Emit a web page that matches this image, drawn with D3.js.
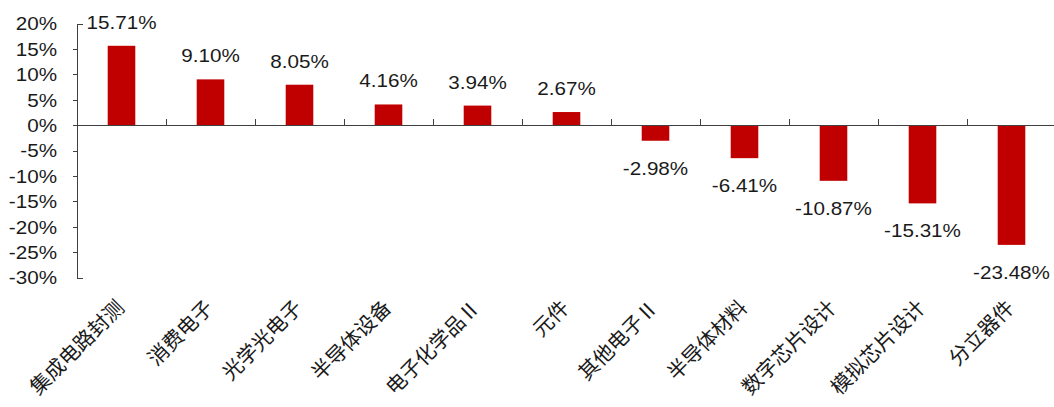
<!DOCTYPE html>
<html>
<head>
<meta charset="utf-8">
<script src="https://cdn.jsdelivr.net/npm/d3@7"></script>
<style>
  html, body { margin: 0; padding: 0; background: #ffffff; }
  svg { display: block; }
</style>
</head>
<body>
<svg id="chart" width="1054" height="407"></svg>
<script>
// Sub-industry returns (%)
const categories = ["集成电路封测", "消费电子", "光学光电子", "半导体设备", "电子化学品Ⅱ", "元件", "其他电子Ⅱ", "半导体材料", "数字芯片设计", "模拟芯片设计", "分立器件"];
const values = [15.71, 9.10, 8.05, 4.16, 3.94, 2.67, -2.98, -6.41, -10.87, -15.31, -23.48];
const yTicks = [20, 15, 10, 5, 0, -5, -10, -15, -20, -25, -30];

const W = 1054, H = 407;
const stretch = 1.18;          // horizontal stretch for the numeric labels
const barColor = "#C00000";
const axisColor = "#404040";
const textColor = "#1a1a1a";
const latinFont = "'Liberation Sans', Arial, sans-serif";
const cjkFont = "'Noto Sans CJK SC', 'Noto Sans', sans-serif";

const svg = d3.select("#chart");

const axisX = 77;
const x = d3.scaleBand()
  .domain(categories)
  .range([axisX, 1056])
  .paddingInner(0.69)
  .paddingOuter(0.345);

const y = d3.scaleLinear()
  .domain([-30, 20])
  .range([278, 24]);

const y0 = y(0);

// bars
svg.append("g")
  .selectAll("rect")
  .data(values)
  .join("rect")
  .attr("x", (d, i) => x(categories[i]))
  .attr("width", x.bandwidth())
  .attr("y", d => Math.min(y(d), y0))
  .attr("height", d => Math.abs(y(d) - y0))
  .attr("fill", barColor);

// y axis
const yAxis = svg.append("g").attr("stroke", axisColor).attr("stroke-width", 1).attr("fill", "none");
yAxis.append("path")
  .attr("d", `M${axisX + 6},${y(20)}H${axisX}V${y(-30)}H${axisX + 6}`)
  .attr("shape-rendering", "crispEdges");
yAxis.selectAll("line.tick")
  .data(yTicks.filter(t => t !== 20 && t !== -30))
  .join("line")
  .attr("class", "tick")
  .attr("x1", axisX - 4).attr("x2", axisX)
  .attr("y1", d => y(d)).attr("y2", d => y(d))
  .attr("shape-rendering", "crispEdges");

svg.append("g")
  .selectAll("text")
  .data(yTicks)
  .join("text")
  .attr("transform", d => `translate(57,${y(d)}) scale(${stretch},1)`)
  .attr("dy", "0.36em")
  .attr("text-anchor", "end")
  .attr("font-family", latinFont)
  .attr("font-size", 17.5)
  .attr("fill", textColor)
  .text(d => d + "%");

// category axis along zero
const xAxis = svg.append("g").attr("stroke", axisColor).attr("stroke-width", 1);
xAxis.append("line")
  .attr("x1", axisX).attr("x2", 1056)
  .attr("y1", y0).attr("y2", y0)
  .attr("shape-rendering", "crispEdges");
xAxis.selectAll("line.tick")
  .data(categories.slice(1))
  .join("line")
  .attr("class", "tick")
  .attr("x1", d => x(d) - x.step() * x.paddingInner() / 2)
  .attr("x2", d => x(d) - x.step() * x.paddingInner() / 2)
  .attr("y1", y0).attr("y2", y0 - 7)
  .attr("shape-rendering", "crispEdges");

// value labels
svg.append("g")
  .selectAll("text")
  .data(values)
  .join("text")
  .attr("transform", (d, i) => {
    const cx = x(categories[i]) + x.bandwidth() / 2;
    const cy = d >= 0 ? y(d) - 17 : y(d) + 34;
    return `translate(${cx},${cy}) scale(${stretch},1)`;
  })
  .attr("text-anchor", "middle")
  .attr("font-family", latinFont)
  .attr("font-size", 17.5)
  .attr("fill", textColor)
  .text(d => d.toFixed(2) + "%");

// rotated category labels
svg.append("g")
  .selectAll("text")
  .data(categories)
  .join("text")
  .attr("transform", d => `translate(${x(d) + x.bandwidth() / 2 + 4},309) rotate(-45)`)
  .attr("text-anchor", "end")
  .attr("font-family", cjkFont)
  .attr("font-size", 20.5)
  .attr("fill", textColor)
  .text(d => d);
</script>
</body>
</html>
